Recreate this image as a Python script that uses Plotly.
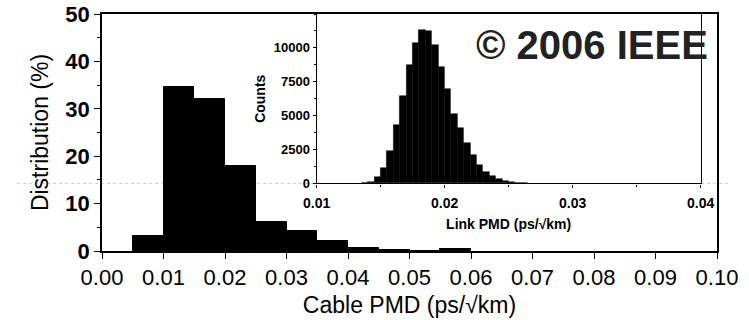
import numpy as np
import plotly.graph_objects as go

# ---- main histogram: cable PMD distribution (%) ----
cable_bin_left = [0.005, 0.010, 0.015, 0.020, 0.025, 0.030, 0.035, 0.040, 0.045, 0.050, 0.055]
cable_pct = [3.2, 34.6, 32.0, 18.0, 6.1, 4.2, 2.1, 0.6, 0.2, 0.1, 0.5]
cable_bin_width = 0.005

# ---- inset histogram: link PMD counts ----
link_bin_left = [0.0135, 0.0140, 0.0145, 0.0150, 0.0155, 0.0160, 0.0165, 0.0170,
                 0.0175, 0.0180, 0.0185, 0.0190, 0.0195, 0.0200, 0.0205, 0.0210,
                 0.0215, 0.0220, 0.0225, 0.0230, 0.0235, 0.0240, 0.0245, 0.0250,
                 0.0255, 0.0260]
link_counts = [30, 120, 490, 1150, 2400, 4300, 6440, 8775,
               10370, 11300, 11250, 10200, 8600, 7000, 5160, 4060,
               2950, 2090, 1350, 860, 540, 300, 150, 80,
               40, 15]
link_bin_width = 0.0005

main_xticks = [0.00, 0.01, 0.02, 0.03, 0.04, 0.05, 0.06, 0.07, 0.08, 0.09, 0.10]
main_yticks = [0, 10, 20, 30, 40, 50]
inset_xticks = [0.01, 0.02, 0.03, 0.04]
inset_yticks = [0, 2500, 5000, 7500, 10000]
inset_yticklabels = ["0", "2500", "5000", "7500", "10000"]

FONT = "Liberation Sans, Arial, sans-serif"

cable_x = np.array(cable_bin_left) + cable_bin_width / 2
link_x = np.array(link_bin_left) + link_bin_width / 2

fig = go.Figure()
fig.add_trace(go.Bar(
    x=cable_x, y=cable_pct, width=cable_bin_width,
    marker=dict(color="black", line=dict(color="black", width=1)),
    xaxis="x", yaxis="y", showlegend=False,
))
fig.add_trace(go.Bar(
    x=link_x, y=link_counts, width=link_bin_width,
    marker=dict(color="black", line=dict(color="black", width=0.5)),
    xaxis="x2", yaxis="y2", showlegend=False,
))

fig.update_layout(
    width=749, height=320,
    margin=dict(l=102, r=32, t=14, b=69),
    paper_bgcolor="white", plot_bgcolor="white",
    font=dict(family=FONT, color="black"),
    bargap=0,
    xaxis=dict(
        domain=[0, 1], range=[0, 0.1], tickvals=main_xticks, tickformat=".2f",
        showline=True, linecolor="black", linewidth=1.5, mirror=True,
        ticks="outside", ticklen=6, tickcolor="black", automargin=False,
        showgrid=False, zeroline=False,
        tickfont=dict(size=22, family=FONT),
        title=dict(text="Cable PMD (ps/√km)", font=dict(size=23, family=FONT), standoff=8),
    ),
    yaxis=dict(
        domain=[0, 1], range=[0, 50], tickvals=main_yticks,
        showline=True, linecolor="black", linewidth=1.5, mirror=True,
        ticks="outside", ticklen=6, tickcolor="black", automargin=False,
        minor=dict(ticks="outside", ticklen=3, dtick=5, tickcolor="black"),
        showgrid=False, zeroline=False,
        tickfont=dict(size=22, family=FONT, weight="bold"),
        title=dict(text="Distribution (%)", font=dict(size=23, family=FONT), standoff=10),
    ),
    xaxis2=dict(
        domain=[0.349, 0.9735], anchor="y2", range=[0.01, 0.04],
        tickvals=inset_xticks, tickformat=".2f",
        showline=True, linecolor="black", linewidth=1.2, mirror=True,
        ticks="outside", ticklen=3, tickcolor="black", automargin=False,
        minor=dict(ticks="outside", ticklen=2, dtick=0.005, tickcolor="black"),
        showgrid=False, zeroline=False,
        ticklabelstandoff=4,
        tickfont=dict(size=14, family=FONT, weight="bold"),
        title=dict(text="Link PMD (ps/√km)", font=dict(size=14, family=FONT, weight="bold"), standoff=8),
    ),
    yaxis2=dict(
        domain=[0.285, 1], anchor="x2", range=[0, 12500],
        tickvals=inset_yticks, ticktext=inset_yticklabels,
        showline=True, linecolor="black", linewidth=1.2, mirror=True,
        ticks="outside", ticklen=3, tickcolor="black", automargin=False,
        minor=dict(ticks="outside", ticklen=2, dtick=1250, tickcolor="black"),
        showgrid=False, zeroline=False,
        tickfont=dict(size=13, family=FONT, weight="bold"),
        title=dict(text="Counts", font=dict(size=14, family=FONT, weight="bold"), standoff=4),
    ),
    shapes=[dict(
        type="line", xref="paper", yref="y2", x0=-0.138, x1=1.02, y0=0, y1=0,
        line=dict(color="#9a9a9a", width=1, dash="dot"), layer="below",
    )],
    annotations=[dict(
        text="© 2006 IEEE", xref="paper", yref="paper", x=0.796, y=0.871,
        xanchor="center", yanchor="middle", showarrow=False,
        font=dict(size=40, family=FONT, color="#222222", weight="bold"),
    )],
)

fig.write_html("out.html")
